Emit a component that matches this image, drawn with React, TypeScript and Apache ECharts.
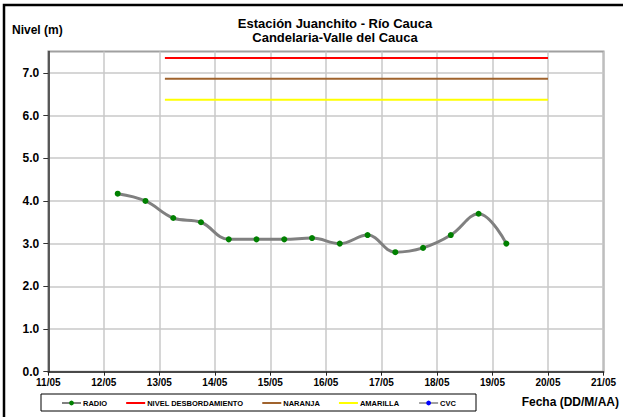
import React, { useEffect, useRef } from "react";
import * as echarts from "echarts";

const FONT = "'Liberation Sans', Arial, sans-serif";

const titleLines = ["Estación Juanchito - Río Cauca", "Candelaria-Valle del Cauca"];
const yAxisTitle = "Nivel (m)";
const xAxisTitle = "Fecha (DD/M/AA)";
const monthSuffix = "/05";
const xMinDay = 11;
const xMaxDay = 21;
const yTickValues = [0, 1, 2, 3, 4, 5, 6, 7];

// RADIO readings: day of May (fractional) and level (m)
const radioTimes = [12.25, 12.75, 13.25, 13.75, 14.25, 14.75, 15.25, 15.75, 16.25, 16.75, 17.25, 17.75, 18.25, 18.75, 19.25];
const radioLevels = [4.17, 4.0, 3.6, 3.5, 3.1, 3.1, 3.1, 3.13, 3.0, 3.2, 2.8, 2.9, 3.2, 3.7, 3.0];

// Threshold lines
const thresholdSpan = [13.1, 20.0];
const nivelDesbordamiento = 7.35;
const naranja = 6.86;
const amarilla = 6.37;

const seriesNames = ["RADIO", "NIVEL DESBORDAMIENTO", "NARANJA", "AMARILLA", "CVC"];

const LINE_ICON = "path://M0,0 L19,0 L19,2 L0,2 Z";

export default function App() {
  const ref = useRef<HTMLDivElement>(null);
  useEffect(() => {
    if (!ref.current) return;
    const chart = echarts.init(ref.current, null, { renderer: "svg" });
    const flat = (v: number) => thresholdSpan.map((d) => [d, v]);
    chart.setOption({
      animation: false,
      backgroundColor: "#ffffff",
      textStyle: { fontFamily: FONT },
      title: {
        text: titleLines.join("\n"),
        left: 330,
        top: 11,
        textAlign: "center",
        textStyle: { fontFamily: FONT, fontSize: 13, fontWeight: "bold", color: "#000", lineHeight: 14 },
      },
      grid: {
        left: 48.3,
        right: 19.5,
        top: 51.5,
        bottom: 45.3,
        show: true,
        borderColor: "#a0a0a0",
        borderWidth: 2,
      },
      legend: {
        left: 61,
        top: 399,
        itemWidth: 19,
        itemHeight: 6,
        itemGap: 19,
        padding: 0,
        textStyle: { fontFamily: FONT, fontSize: 7.5, fontWeight: "bold", color: "#000", padding: [0, 0, 0, -3] },
        data: [
          { name: seriesNames[0] },
          { name: seriesNames[1], icon: LINE_ICON },
          { name: seriesNames[2], icon: LINE_ICON },
          { name: seriesNames[3], icon: LINE_ICON },
          { name: seriesNames[4] },
        ],
      },
      xAxis: {
        type: "value",
        min: xMinDay,
        max: xMaxDay,
        interval: 1,
        axisLine: { lineStyle: { color: "#222", width: 1.5 } },
        axisTick: { show: true, length: 4, lineStyle: { color: "#222" } },
        axisLabel: {
          formatter: (v: number) => `${v}${monthSuffix}`,
          fontFamily: FONT,
          fontSize: 10,
          fontWeight: "bold",
          color: "#000",
          margin: 6,
        },
        splitLine: { show: true, lineStyle: { color: "#c8c8c8", width: 1.5 } },
      },
      yAxis: {
        type: "value",
        min: 0,
        max: 7.5,
        interval: 0.5,
        axisLine: { show: true, lineStyle: { color: "#333", width: 1.5 } },
        axisTick: { show: true, length: 5, customValues: yTickValues, lineStyle: { color: "#333" } },
        axisLabel: {
          customValues: yTickValues,
          formatter: (v: number) => v.toFixed(1),
          fontFamily: FONT,
          fontSize: 12,
          fontWeight: "bold",
          color: "#000",
          margin: 9,
        },
        splitLine: { show: true, lineStyle: { color: "#c8c8c8", width: 1.5 } },
      },
      series: [
        {
          name: seriesNames[0],
          type: "line",
          smooth: 0.4,
          data: radioTimes.map((t, i) => [t, radioLevels[i]]),
          symbol: "circle",
          symbolSize: 6,
          lineStyle: { color: "#808080", width: 3 },
          itemStyle: { color: "#008000", borderWidth: 0 },
          z: 5,
        },
        {
          name: seriesNames[1],
          type: "line",
          data: flat(nivelDesbordamiento),
          symbol: "none",
          lineStyle: { color: "#ff0000", width: 2 },
          itemStyle: { color: "#ff0000" },
        },
        {
          name: seriesNames[2],
          type: "line",
          data: flat(naranja),
          symbol: "none",
          lineStyle: { color: "#a0632d", width: 2 },
          itemStyle: { color: "#a0632d" },
        },
        {
          name: seriesNames[3],
          type: "line",
          data: flat(amarilla),
          symbol: "none",
          lineStyle: { color: "#ffff00", width: 2 },
          itemStyle: { color: "#ffff00" },
        },
        {
          name: seriesNames[4],
          type: "line",
          data: [],
          symbol: "circle",
          symbolSize: 5,
          lineStyle: { color: "#a0a0a0", width: 2 },
          itemStyle: { color: "#0000ff" },
        },
      ],
      graphic: [
        {
          type: "rect",
          shape: { x: 4, y: 5, width: 700, height: 500 },
          style: { fill: "none", stroke: "#000", lineWidth: 2.5 },
          silent: true,
        },
        {
          type: "rect",
          shape: { x: 41, y: 394, width: 435, height: 17 },
          style: { fill: "none", stroke: "#000", lineWidth: 1 },
          silent: true,
          z: -1,
        },
        {
          type: "text",
          x: 12,
          y: 30,
          style: { text: yAxisTitle, font: `bold 12px ${FONT}`, fill: "#000", textVerticalAlign: "middle" },
        },
        {
          type: "text",
          x: 619,
          y: 402,
          style: { text: xAxisTitle, font: `bold 12px ${FONT}`, fill: "#000", textAlign: "right", textVerticalAlign: "middle" },
        },
      ],
    });
    return () => chart.dispose();
  }, []);
  return <div ref={ref} style={{ position: "fixed", left: 0, top: 0, width: 623, height: 417 }} />;
}
